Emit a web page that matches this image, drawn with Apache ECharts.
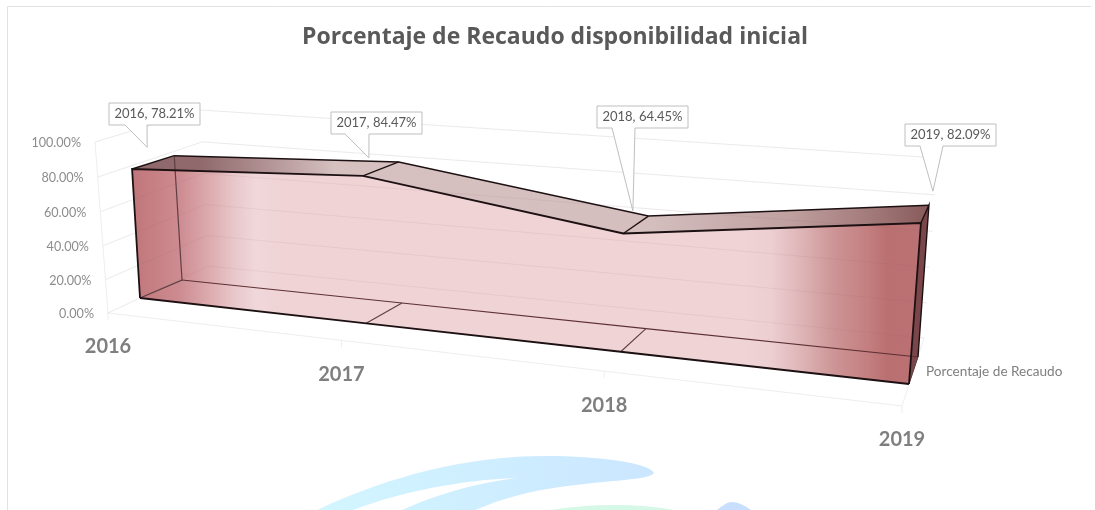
<!DOCTYPE html>
<html><head><meta charset="utf-8">
<style>html,body{margin:0;padding:0;background:#fff}#c{width:1095px;height:510px}</style>
<script src="https://cdn.jsdelivr.net/npm/echarts@6/dist/echarts.min.js"></script>
</head><body><div id="c"></div>
<script>
// ---- data ----
const chartTitle = 'Porcentaje de Recaudo disponibilidad inicial';
const seriesName = 'Porcentaje de Recaudo';
const categories = ['2016', '2017', '2018', '2019'];
const recaudo = [78.21, 84.47, 64.45, 82.09];
const yTicks = [0, 20, 40, 60, 80, 100];

// ---- perspective layout: where the unit square of each plane lands [BL, BR, TR, TL] ----
const areaFront = [[140, 298], [909, 384], [923.6, 186.7], [129.8, 132]];
const areaBack = [[182, 280], [918, 357], [931.4, 171], [172, 120]];
const wallFront = [[108, 313], [902, 406], [917, 203], [95, 142]];
const wallBack = [[208, 266], [924, 338], [938, 158], [201, 110]];
// callouts: box top-left corner, pointer base x offsets, tip offset from the data point
const calloutBox = [[109, 103], [331, 112], [597, 106], [905, 124]];
const calloutBase = [[16, 38], [14, 38], [15, 38], [15, 38]];
const calloutTip = [[-6, -15], [-12, -11], [-3, -14], [8, -23]];
// faint watermark behind the chart
const swoosh = { type: 'linear', global: true, x: 315, y: 0, x2: 654, y2: 0, colorStops: [{ offset: 0, color: '#d2f6ff' }, { offset: 1, color: '#cbe6ff' }] };
const watermark = [
  { d: 'M 315 511 C 390 475 470 456 545 456 C 600 456 650 463 654 473 C 650 480 610 480 560 487 C 530 491 500 499 473 511 L 400 511 C 430 497 470 484 516 478 C 460 480 400 492 350 511 Z', fill: swoosh },
  { d: 'M 545 511 C 590 503 640 503 680 511 Z', fill: '#d6f8e6' },
  { d: 'M 716 511 C 722 506 727 502 732 502 C 738 502 746 506 752 511 Z', fill: '#c9dfff' }
];

function homography(q) {
  const [[x0, y0], [x1, y1], [x2, y2], [x3, y3]] = q;
  const dx1 = x1 - x2, dx2 = x3 - x2, sx = x0 - x1 + x2 - x3;
  const dy1 = y1 - y2, dy2 = y3 - y2, sy = y0 - y1 + y2 - y3;
  const det = dx1 * dy2 - dx2 * dy1;
  const g = (sx * dy2 - dx2 * sy) / det, h = (dx1 * sy - sx * dy1) / det;
  const a = x1 - x0 + g * x1, b = x3 - x0 + h * x3, d = y1 - y0 + g * y1, e = y3 - y0 + h * y3;
  return (u, v) => { const w = g * u + h * v + 1; return [(a * u + b * v + x0) / w, (d * u + e * v + y0) / w]; };
}
const pAF = homography(areaFront), pAB = homography(areaBack), pWF = homography(wallFront), pWB = homography(wallBack);
function unit(params, api, i, val) {
  const c = api.coord([i, val]), r = params.coordSys;
  return [(c[0] - r.x) / r.width, (r.y + r.height - c[1]) / r.height];
}
const hGrad = (stops) => ({ type: 'linear', global: true, x: 132, y: 0, x2: 930, y2: 0,
  colorStops: stops.map(s => ({ offset: (s[0] - 132) / 798, color: s[1] })) });
const frontFill = hGrad([[132, 'rgb(192,118,122)'], [180, 'rgb(205,140,145)'], [213, 'rgb(222,175,178)'], [233, 'rgb(232,198,201)'], [255, 'rgb(240,215,218)'], [285, 'rgb(239,211,213)'], [745, 'rgb(239,211,213)'], [770, 'rgb(237,207,210)'], [800, 'rgb(223,182,184)'], [833, 'rgb(205,149,150)'], [867, 'rgb(196,127,128)'], [887, 'rgb(186,112,113)'], [930, 'rgb(187,114,116)']]);
const topFill = hGrad([[132, '#8f686b'], [200, '#8f696b'], [260, '#ae8e90'], [335, '#d6c0c0'], [650, '#d4bebe'], [790, '#c0a0a0'], [870, '#a37a7a'], [930, '#875a5a']]);
const poly = (points, fill) => ({ type: 'polygon', shape: { points }, style: { fill, stroke: null } });
const line = (points, stroke, lineWidth) => ({ type: 'polyline', shape: { points }, style: { fill: null, stroke, lineWidth } });
const GRID = '#f7f7f7', GRID_SHOW = 'rgba(130,80,85,.08)';

function renderWatermark(params, api) {
  const w = watermark[params.dataIndex];
  return { type: 'path', shape: { pathData: w.d }, style: { fill: w.fill, stroke: null } };
}
function renderFrame() {
  return line([[7.5, 511], [7.5, 6.5], [1091, 6.5]], '#e2e2e2', 1);
}
function renderTicks(params, api) {
  const v = api.value(1), r = params.coordSys;
  const c = api.coord([0, v]), t = (r.y + r.height - c[1]) / r.height;
  const a = pWF(0, t), b = pWB(0, t), d = pWB(1, t);
  const kids = [line([a, b, d], GRID, 1),
    { type: 'text', x: a[0] - 14, y: a[1] + 1, style: { text: v.toFixed(2) + '%', font: '12.6px Lato', fill: '#8c8c8c', align: 'right', verticalAlign: 'middle' } }];
  if (v === 0) {
    kids.push(line([pWF(0, 0), pWF(1, 0)], '#eeeeee', 1), line([pWF(1, 0), pWB(1, 0)], '#eeeeee', 1));
    kids.push(line([pWF(0, 0), pWF(0, 1)], '#eeeeee', 1));
    kids.push({ type: 'text', x: 926, y: 372, style: { text: seriesName, font: '13.6px Lato', fill: '#7f7f7f', verticalAlign: 'middle' } });
  }
  return { type: 'group', children: kids };
}
function renderCategories(params, api) {
  const i = api.value(0), u = unit(params, api, i, 0)[0], p = pWF(u, 0);
  return { type: 'group', children: [
    line([p, [p[0], p[1] + 7]], '#eeeeee', 1),
    { type: 'text', x: p[0], y: p[1] + 34, style: { text: categories[i], font: 'bold 20px Lato', fill: '#7f7f7f', align: 'center', verticalAlign: 'middle' } }
  ] };
}
function renderArea(params, api) {
  if (params.dataIndex !== recaudo.length - 1) return;
  const n = recaudo.length;
  const U = recaudo.map((v, i) => unit(params, api, i, v));
  const fT = U.map(o => pAF(o[0], o[1])), bT = U.map(o => pAB(o[0], o[1]));
  const fB = U.map(o => pAF(o[0], 0)), bB = U.map(o => pAB(o[0], 0));
  const last = n - 1, EDGE = '#1c1012', SOFT = '#5e3f42';
  const kids = [];
  kids.push(poly([...fT, ...fB.slice().reverse()], frontFill));
  kids.push(poly([fT[last], bT[last], bB[last], fB[last]], '#7a4649'));
  for (let i = 0; i < last; i++) kids.push(poly([fT[i], bT[i], bT[i + 1], fT[i + 1]], topFill));
  // the walls' gridlines show faintly through the translucent body
  yTicks.forEach(tk => {
    const t = unit(params, api, 0, tk)[1];
    kids.push(line([pWF(0, t), pWB(0, t), pWB(1, t)], GRID_SHOW, 1));
  });
  kids.push(line(bB, '#5e3034', 1.2));
  kids.push(line([bT[0], bB[0], fB[0]], SOFT, 1.2));
  for (let i = 1; i < last; i++) {
    kids.push(line([fB[i], bB[i]], SOFT, 1.1));
    kids.push(line([fT[i], bT[i]], EDGE, 1.3));
  }
  kids.push(line([bB[last], fB[last]], SOFT, 1));
  kids.push(line(bT, EDGE, 1.5));
  kids.push(line([fT[0], bT[0]], EDGE, 1.5));
  kids.push(line([fT[last], bT[last], bB[last]], EDGE, 1.4));
  kids.push(line([fB[0], fT[0], ...fT.slice(1), fB[last]], EDGE, 1.8));
  kids.push(line(fB, EDGE, 1.8));
  return { type: 'group', children: kids };
}
function renderCallouts(params, api) {
  const i = api.value(0), o = unit(params, api, i, api.value(1));
  const a = pAF(o[0], o[1]), b = pAB(o[0], o[1]);
  const tip = [(a[0] + b[0]) / 2 + calloutTip[i][0], (a[1] + b[1]) / 2 + calloutTip[i][1]];
  const [x, y] = calloutBox[i], w = 91, h = 22, [b0, b1] = calloutBase[i];
  return { type: 'group', children: [
    { type: 'polygon', shape: { points: [[x, y], [x + w, y], [x + w, y + h], [x + b1, y + h], tip, [x + b0, y + h], [x, y + h]] },
      style: { fill: '#fff', stroke: '#bfbfbf', lineWidth: 1 } },
    { type: 'text', x: x + w / 2, y: y + h / 2, style: { text: categories[i] + ', ' + api.value(1).toFixed(2) + '%', font: '13px Lato', fill: '#595959', align: 'center', verticalAlign: 'middle' } }
  ] };
}
const points = recaudo.map((v, i) => [i, v]);
const base = { type: 'custom', coordinateSystem: 'cartesian2d', clip: false, silent: true };
const chart = echarts.init(document.getElementById('c'), null, { renderer: 'canvas' });
chart.setOption({
  animation: false,
  backgroundColor: '#fff',
  title: { text: chartTitle, left: 297, top: 21, textStyle: { fontFamily: 'Open Sans', fontWeight: 'bold', fontSize: 23, color: '#595959' } },
  grid: { left: 100, right: 100, top: 100, bottom: 100 },
  xAxis: { type: 'category', data: categories, boundaryGap: false, show: false },
  yAxis: { type: 'value', min: 0, max: 100, interval: 20, show: false },
  series: [
    { ...base, name: 'marca', data: watermark.map(() => [0, 0]), renderItem: renderWatermark, z: 0 },
    { ...base, name: 'marco', data: [[0, 0]], renderItem: renderFrame, z: 0 },
    { ...base, name: 'ejeY', data: yTicks.map(t => [0, t]), renderItem: renderTicks, z: 1 },
    { ...base, name: 'ejeX', data: categories.map((c, i) => [i, 0]), renderItem: renderCategories, z: 1 },
    { ...base, name: seriesName, data: points, renderItem: renderArea, z: 2 },
    { ...base, name: 'etiquetas', data: points, renderItem: renderCallouts, z: 3 }
  ]
});
</script></body></html>
